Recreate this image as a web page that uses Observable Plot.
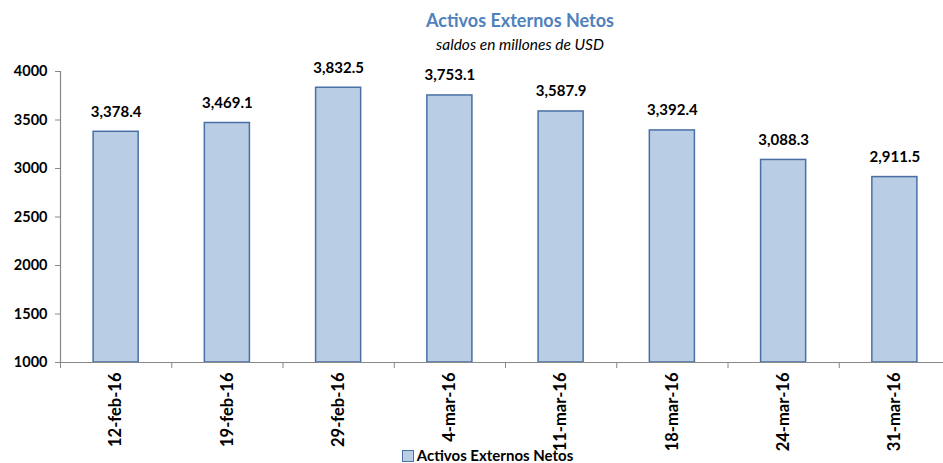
<!DOCTYPE html>
<html><head><meta charset="utf-8">
<script src="https://cdn.jsdelivr.net/npm/d3@7"></script>
<script src="https://cdn.jsdelivr.net/npm/@observablehq/plot@0.6"></script>
<style>
body{margin:0;background:#fff;font-family:Lato,"Open Sans",sans-serif;}
#wrap{position:relative;width:943px;height:463px;overflow:hidden;}
#chart svg{max-width:none !important;}
#title{position:absolute;left:0;width:1040px;top:9px;text-align:center;font-weight:bold;font-size:18px;color:#4F81BD;}
#sub{position:absolute;left:0;width:1040px;top:35px;text-align:center;font-style:italic;font-size:15.5px;color:#000;}
#legend{position:absolute;left:0;width:975px;top:447px;text-align:center;font-weight:bold;font-size:15px;color:#000;line-height:16px;}
#legend span.sw{display:inline-block;width:10px;height:10px;background:#B9CDE5;border:1px solid #4A6FA5;vertical-align:-1px;margin-right:3px;}
</style></head>
<body><div id="wrap"><div id="chart"></div>
<div id="title">Activos Externos Netos</div>
<div id="sub">saldos en millones de USD</div>
<div id="legend"><span class="sw"></span>Activos Externos Netos</div>
</div>
<script>
const categories = ["12-feb-16","19-feb-16","29-feb-16","4-mar-16","11-mar-16","18-mar-16","24-mar-16","31-mar-16"];
const values = [3378.4, 3469.1, 3832.5, 3753.1, 3587.9, 3392.4, 3088.3, 2911.5];
const yTicks = [1000,1500,2000,2500,3000,3500,4000];
const seriesName = "Activos Externos Netos";

const data = categories.map((c,i)=>({cat:c, value:values[i]}));
const fmt = d3.format(",.1f");
const halfStep = 55.6;

const chart = Plot.plot({
  width: 950, height: 463,
  marginLeft: 60, marginRight: 0, marginTop: 71, marginBottom: 101,
  style: {fontFamily: "Lato, sans-serif", fontWeight: "bold", color: "#000", background: "#fff", maxWidth: "none"},
  x: {domain: categories, paddingInner: 0.595, paddingOuter: 0.2975, round: false, label: null},
  y: {domain: [1000, 4000], ticks: yTicks, label: null},
  marks: [
    Plot.barY(data, {x: "cat", y1: 1000, y2: "value", fill: "#B9CDE5", stroke: "#4A6FA5", strokeWidth: 1.5}),
    Plot.ruleY([1000], {stroke: "#888", strokeWidth: 1.2}),
    Plot.frame({anchor: "left", stroke: "#888", strokeWidth: 1.2}),
    Plot.ruleX(data, {x: "cat", dx: -halfStep, y1: 1000, y2: 1000, insetBottom: -6, stroke: "#888"}),
    Plot.axisY({ticks: yTicks, tickSize: 5, tickPadding: 8, tickFormat: d => String(d), fontSize: 14.5, fontWeight: "bold", stroke: "#888", label: null}),
    Plot.axisX({tickSize: 0, tickRotate: -90, tickPadding: 10, fontSize: 16.5, fontWeight: "bold", label: null}),
    Plot.text(data, {x: "cat", y: "value", text: d => fmt(d.value), dy: -20, fontSize: 15, fontWeight: "bold", fill: "#000"})
  ]
});
document.getElementById("chart").appendChild(chart);
</script>
</body></html>
